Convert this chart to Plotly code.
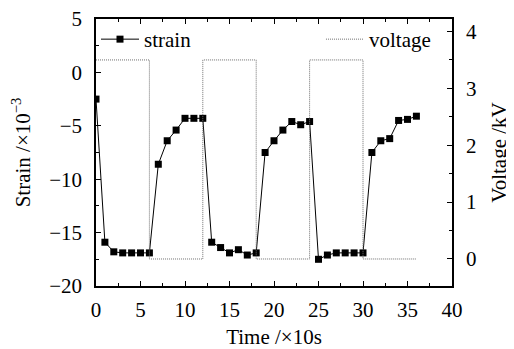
import plotly.graph_objects as go

# Strain data (time in units of 10 s, strain in 1e-3)
time_strain = list(range(0, 37))
strain = [-2.5, -15.9, -16.8, -16.9, -16.9, -16.9, -16.9,
          -8.6, -6.4, -5.4, -4.3, -4.3, -4.3,
          -15.9, -16.4, -16.9, -16.6, -17.1, -16.9,
          -7.5, -6.4, -5.4, -4.6, -4.9, -4.6,
          -17.5, -17.1, -16.9, -16.9, -16.9, -16.9,
          -7.5, -6.4, -6.2, -4.5, -4.4, -4.1]

# Voltage square wave (kV)
time_voltage = [0, 6, 6, 12, 12, 18, 18, 24, 24, 30, 30, 36]
voltage = [3.5, 3.5, 0, 0, 3.5, 3.5, 0, 0, 3.5, 3.5, 0, 0]

x_ticks = [0, 5, 10, 15, 20, 25, 30, 35, 40]
y_ticks = [5, 0, -5, -10, -15, -20]
y2_ticks = [0, 1, 2, 3, 4]

FONT = "Liberation Serif"
fs = 21

fig = go.Figure()
fig.add_trace(go.Scatter(
    x=time_strain, y=strain, name="strain", mode="lines+markers",
    line=dict(color="black", width=1),
    marker=dict(symbol="square", size=7, color="black"),
    legend="legend", showlegend=True))
fig.add_trace(go.Scatter(
    x=time_voltage, y=voltage, name="voltage", yaxis="y2",
    mode="lines", line=dict(color="#707070", width=1, dash="1px,1px"),
    legend="legend2", showlegend=True))

axis_common = dict(showline=True, linecolor="black", linewidth=1.5,
                   ticks="inside", ticklen=5, tickcolor="black",
                   showgrid=False, zeroline=False, automargin=False,
                   ticklabeloverflow="allow",
                   tickfont=dict(family=FONT, size=fs, color="black"))

fig.update_layout(
    width=506, height=341,
    margin=dict(l=88, r=62, t=11, b=63),
    paper_bgcolor="white", plot_bgcolor="white",
    font=dict(family=FONT, size=fs, color="black"),
    xaxis=dict(range=[0, 40], tickvals=x_ticks, mirror="ticks",
               minor=dict(ticks="inside", dtick=2.5, ticklen=3, tickcolor="black"),
               title=dict(text="Time /×10s", font=dict(family=FONT, size=fs)),
               ticklabelstandoff=4,
               **axis_common),
    yaxis=dict(range=[-20, 5], tickvals=y_ticks,
               minor=dict(ticks="inside", dtick=2.5, ticklen=3, tickcolor="black"),
               title=dict(text="Strain /×10<sup>−3</sup>", font=dict(family=FONT, size=fs)),
               ticklabelstandoff=8,
               **axis_common),
    yaxis2=dict(range=[-0.475, 4.22], tickvals=y2_ticks, overlaying="y", side="right",
                minor=dict(ticks="inside", dtick=0.5, ticklen=3, tickcolor="black"),
                title=dict(text="Voltage /kV", font=dict(family=FONT, size=fs)),
                ticklabelstandoff=8,
                **axis_common),
    showlegend=True,
    legend=dict(x=0.0, y=1.0, xanchor="left", yanchor="top",
                bgcolor="rgba(0,0,0,0)", itemwidth=38,
                font=dict(family=FONT, size=fs)),
    legend2=dict(x=0.955, y=1.0, xanchor="right", yanchor="top",
                 bgcolor="rgba(0,0,0,0)", itemwidth=38,
                 font=dict(family=FONT, size=fs)),
)

fig.write_html("out.html")
